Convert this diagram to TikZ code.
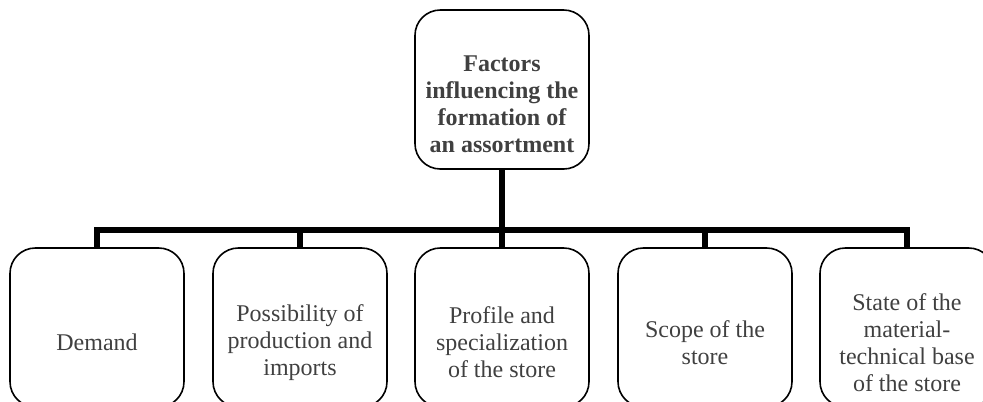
\documentclass[tikz,border=0pt]{standalone}
\usepackage{fontspec}
\setmainfont{Liberation Serif}
\usetikzlibrary{calc}

\begin{document}
\begin{tikzpicture}[x=0.75pt,y=-0.75pt]
\useasboundingbox (0,0) rectangle (983,401);

% Style for the rounded boxes, the texts in them and the thick bars
\tikzstyle{factorbox}=[draw, line width=1.2pt, rounded corners=19pt, minimum width=130.5pt, minimum height=119.25pt, inner sep=0pt]
\tikzstyle{factortext}=[align=center, text=black!75, font=\fontsize{18}{20.25}\selectfont]
\tikzstyle{conn}=[line width=4.5pt]

% This command draws one factor box of the bottom row
\newcommand{\drawfactor}[3]{
% #1 = name of the box
% #2 = xcoord of the centre of the box
% #3 = text in the box
\node[factorbox] (#1) at (#2,327.5) {};
\node[factortext] (#1text) at ($(#1)+(0,15)$) {#3};
} % End of definition of `drawfactor`

% The box on top
\node[factorbox] (top) at (502,89.5) {};
\node[factortext, font=\fontsize{18}{20.25}\selectfont\bfseries] (toptext) at ($(top)+(0,15)$)
  {Factors\\influencing the\\formation of\\an assortment};

% Now the 5 factors
\drawfactor{demand}{97}{Demand}
\drawfactor{imports}{300}{Possibility of\\production and\\imports}
\drawfactor{profile}{502}{Profile and\\specialization\\of the store}
\drawfactor{scope}{705}{Scope of the\\store}
\drawfactor{base}{907}{State of the\\material-\\technical base\\of the store}

% The bar joining them
\coordinate (bar) at (502,230);
\draw[conn] (demand.north) |- (bar) -| (base.north);
\draw[conn] (top.south) -- (bar) -- (profile.north);
\draw[conn] (imports.north) -- (imports.north |- bar);
\draw[conn] (scope.north) -- (scope.north |- bar);

\end{tikzpicture}
\end{document}
